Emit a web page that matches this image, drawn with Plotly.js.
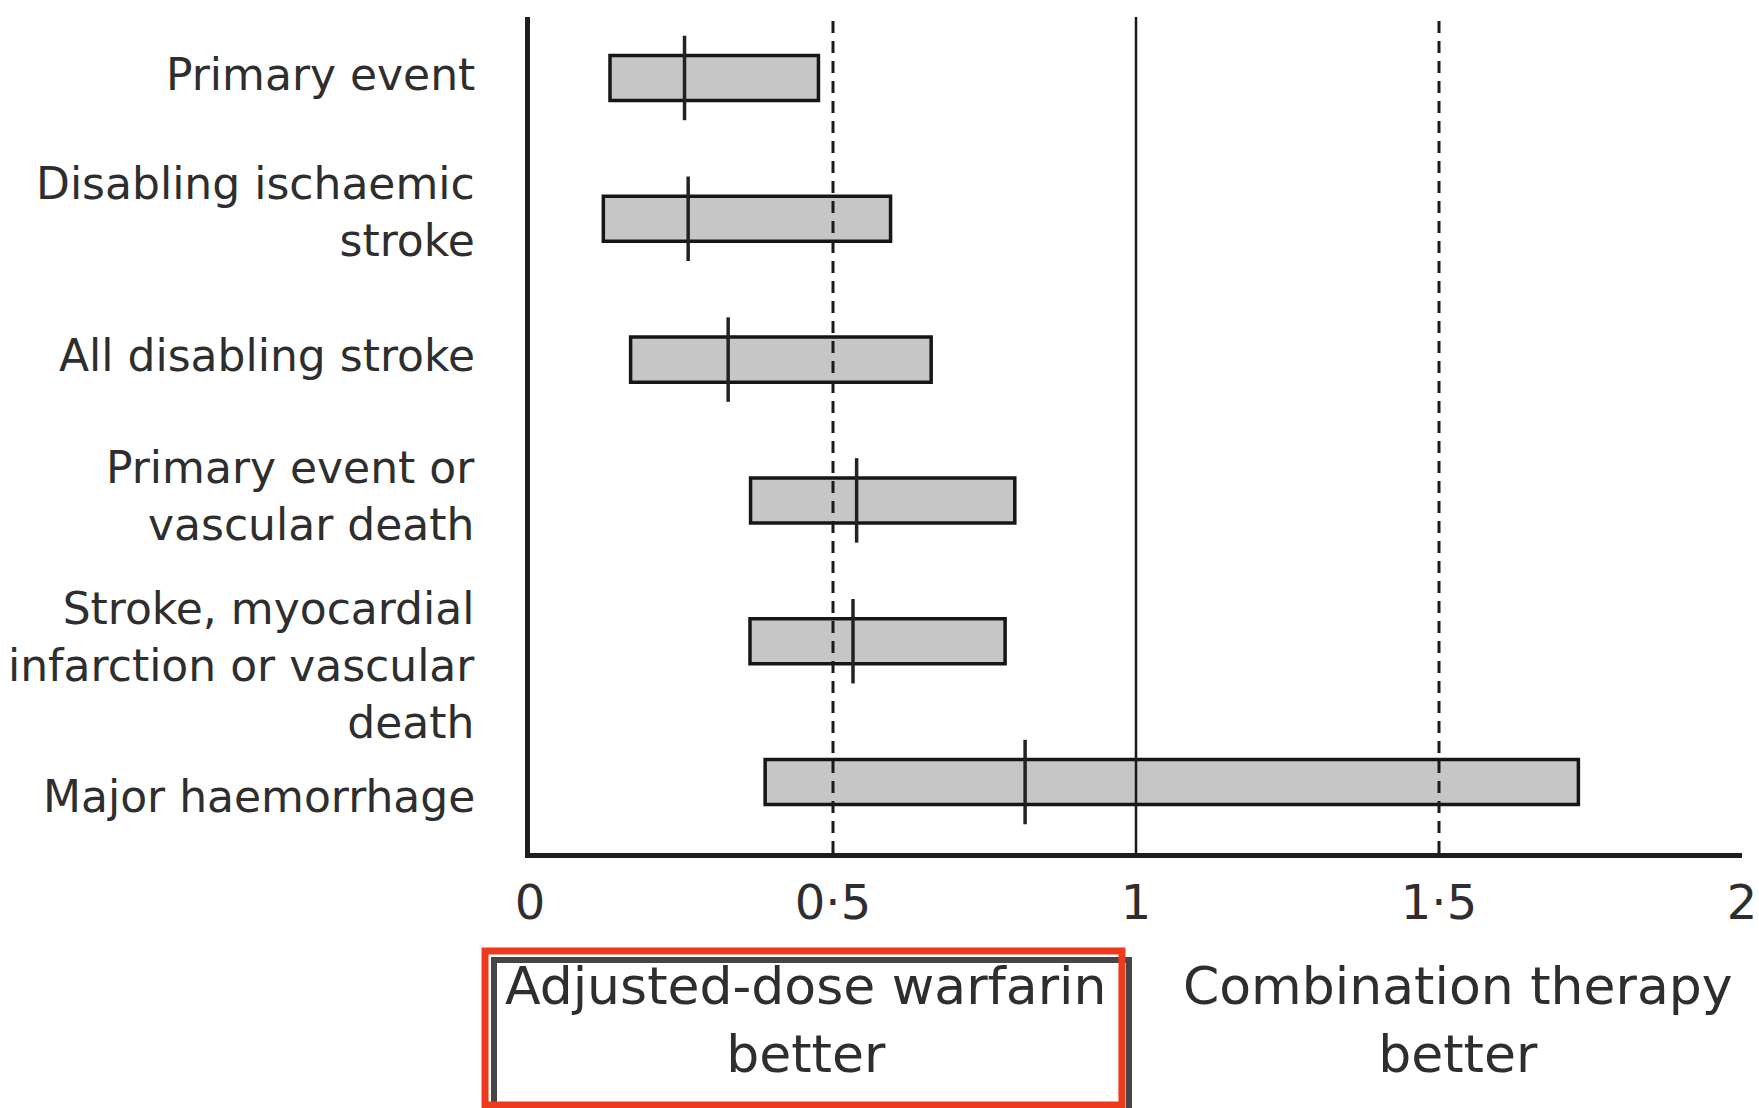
<!DOCTYPE html>
<html>
<head>
<meta charset="utf-8">
<script src="https://cdn.plot.ly/plotly-3.0.1.min.js"></script>
<style>
  html, body { margin: 0; padding: 0; background: #ffffff; }
  #chart { width: 1759px; height: 1108px; }
</style>
</head>
<body>
<div id="chart"></div>
<script>
// ---- Data ----
const outcomes = [
  "Primary event",
  "Disabling ischaemic<br>stroke",
  "All disabling stroke",
  "Primary event or<br>vascular death",
  "Stroke, myocardial<br>infarction or vascular<br>death",
  "Major haemorrhage"
];
const lower = [0.132, 0.121, 0.166, 0.364, 0.363, 0.388];
const upper = [0.476, 0.595, 0.662, 0.800, 0.784, 1.730];
const estimate = [0.255, 0.261, 0.327, 0.539, 0.533, 0.817];

const xTickVals = [0, 0.5, 1, 1.5, 2];
const xTickText = ["0", "0·5", "1", "1·5", "2"];

const refLines = [0.5, 1, 1.5];
const refDash = ["12px,8px", "solid", "12px,8px"];

const leftNote = "Adjusted-dose warfarin<br>better";
const rightNote = "Combination therapy<br>better";

// ---- Style (not data) ----
const labelShift = [3, 7, 4, 4, -24, -14];
const barThickness = 0.32;
const tickHalf = 0.3;
const FONT = "DejaVu Sans, Verdana, sans-serif";

const yIdx = outcomes.map((_, i) => i);

const bars = {
  type: "bar",
  orientation: "h",
  y: yIdx,
  base: lower,
  x: upper.map((u, i) => u - lower[i]),
  width: barThickness,
  marker: { color: "#c6c6c6", line: { color: "#161616", width: 3.5 } },
  hoverinfo: "skip",
  showlegend: false
};

const ex = [], ey = [];
estimate.forEach((v, i) => {
  ex.push(v, v, null);
  ey.push(i - tickHalf, i + tickHalf, null);
});
const estTicks = {
  type: "scatter",
  mode: "lines",
  x: ex,
  y: ey,
  line: { color: "#222222", width: 3.5 },
  hoverinfo: "skip",
  showlegend: false
};

const shapes = refLines.map((v, i) => ({
  type: "line",
  xref: "x",
  yref: "paper",
  x0: v, x1: v, y0: 0, y1: 1,
  line: { color: "#1a1a1a", width: refDash[i] === "solid" ? 2.5 : 3, dash: refDash[i] },
  layer: "above"
}));

// original dark frame around the left note and red highlight box on top
shapes.push({
  type: "rect", xref: "paper", yref: "paper",
  x0: -0.0297, x1: 0.4942, y0: -0.128, y1: -0.32,
  line: { color: "#454545", width: 6 }, fillcolor: "rgba(0,0,0,0)", layer: "above"
});
shapes.push({
  type: "rect", xref: "paper", yref: "paper",
  x0: -0.0371, x1: 0.4884, y0: -0.1172, y1: -0.3014,
  line: { color: "#ee3a1c", width: 7 }, fillcolor: "rgba(0,0,0,0)", layer: "above"
});

const annotations = outcomes.map((t, i) => ({
  xref: "paper", yref: "y",
  x: -0.0437, y: i,
  xanchor: "right", yanchor: "middle", align: "right",
  yshift: labelShift[i],
  text: t,
  showarrow: false,
  font: { family: FONT, size: 44, color: "#2e2e2e" }
}));
annotations.push({
  xref: "paper", yref: "paper",
  x: 0.2277, y: -0.1998, xanchor: "center", yanchor: "middle", align: "center",
  text: leftNote, showarrow: false,
  font: { family: FONT, size: 52, color: "#2e2e2e" }
});
annotations.push({
  xref: "paper", yref: "paper",
  x: 0.7657, y: -0.1998, xanchor: "center", yanchor: "middle", align: "center",
  text: rightNote, showarrow: false,
  font: { family: FONT, size: 52, color: "#2e2e2e" }
});

const layout = {
  width: 1759,
  height: 1108,
  paper_bgcolor: "#ffffff",
  plot_bgcolor: "#ffffff",
  margin: { l: 530, r: 17, t: 17, b: 255 },
  showlegend: false,
  xaxis: {
    range: [0, 2],
    tickvals: xTickVals,
    ticktext: xTickText,
    showgrid: false,
    zeroline: false,
    showline: true,
    linecolor: "#1e1e1e",
    linewidth: 5,
    ticks: "",
    ticklabelstandoff: 3,
    ticklabeloverflow: "allow",
    tickfont: { family: FONT, size: 48, color: "#2e2e2e" },
    automargin: false,
    fixedrange: true
  },
  yaxis: {
    range: [5.504, -0.433],
    showticklabels: false,
    showgrid: false,
    zeroline: false,
    showline: true,
    linecolor: "#1e1e1e",
    linewidth: 5,
    ticks: "",
    automargin: false,
    fixedrange: true
  },
  shapes: shapes,
  annotations: annotations
};

Plotly.newPlot("chart", [bars, estTicks], layout, { displayModeBar: false, staticPlot: true });
</script>
</body>
</html>
